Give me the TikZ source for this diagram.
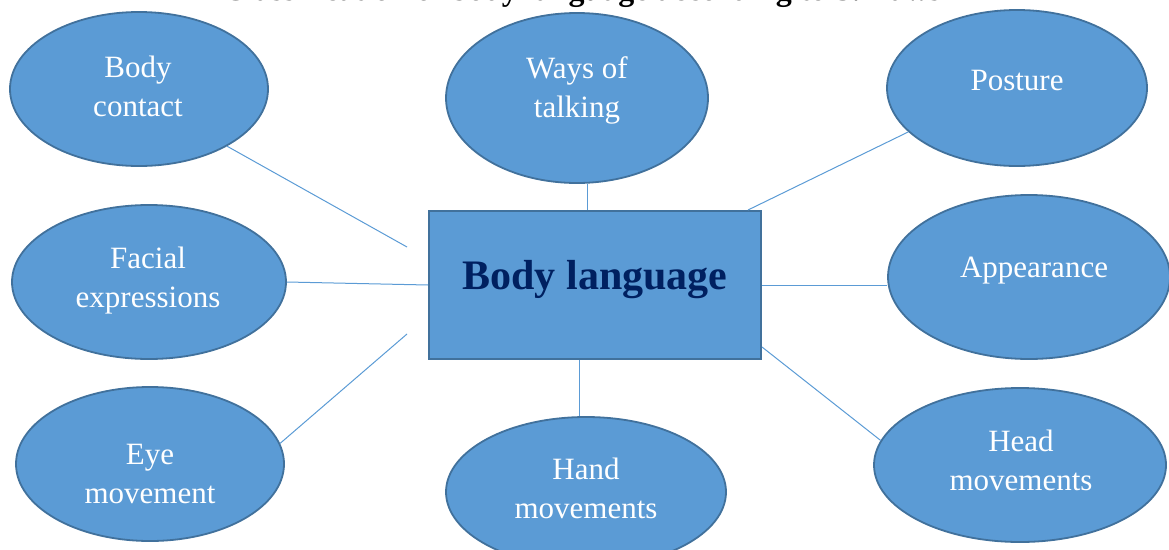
\documentclass[tikz,border=0pt]{standalone}
\usepackage{fontspec}
\setmainfont{Liberation Serif}
\usetikzlibrary{shapes.geometric,calc}
\definecolor{fillblue}{HTML}{5B9BD5}
\definecolor{edgeblue}{HTML}{41719C}
\definecolor{navy}{HTML}{002060}
\begin{document}
\begin{tikzpicture}[x=1pt,y=-1pt,
  oval/.style={ellipse, draw=edgeblue, line width=1.8pt, fill=fillblue, inner sep=0pt},
  lbl/.style={text=white, font=\fontsize{31}{39}\selectfont, align=center},
  link/.style={draw=fillblue, line width=1pt}]
\useasboundingbox (0,0) rectangle (1169,549);
\clip (0,0) rectangle (1169,549);
\node[anchor=base, font=\bfseries\fontsize{32}{40}\selectfont] (title) at (582,0.8) {Classification of body language according to S. Laws};

\coordinate (c1) at (407,247);
\coordinate (c2) at (407,334);

\node[oval, minimum width=258pt, minimum height=154pt] (bc) at (139,89) {};
\node[oval, minimum width=262pt, minimum height=170pt] (wt) at (577,98) {};
\node[oval, minimum width=260pt, minimum height=156pt] (po) at (1017,88) {};
\node[oval, minimum width=274pt, minimum height=154pt] (fe) at (149,282) {};
\node[oval, minimum width=282pt, minimum height=164pt] (ap) at (1029,277) {};
\node[oval, minimum width=268pt, minimum height=154pt] (em) at (150,464) {};
\node[oval, minimum width=280pt, minimum height=150pt] (hm) at (586,492) {};
\node[oval, minimum width=292pt, minimum height=154pt] (hd) at (1020,465) {};

\node[draw=edgeblue, line width=2pt, fill=fillblue, minimum width=332pt, minimum height=148pt, inner sep=0pt] (box) at (595,285) {};
\node[text=navy, font=\bfseries\fontsize{42}{50}\selectfont] (boxtxt) at (595,280) {Body language};

\node[lbl] (bct) at (138,86) {Body\\contact};
\node[lbl] (wtt) at (577,90) {Ways of\\talking};
\node[lbl] (pot) at (1017,80) {Posture};
\node[lbl] (fet) at (148,281) {Facial\\expressions};
\node[lbl] (apt) at (1034,271) {Appearance};
\node[lbl] (emt) at (150,474) {Eye\\movement};
\node[lbl] (hmt) at (586,488) {Hand\\movements};
\node[lbl] (hdt) at (1021,460) {Head\\movements};

\draw[link] (bc.-33) -- (c1);
\draw[link] (wt.-83) -- (wt.-83 |- box.north);
\draw[link] (po.202) -- ($(box.north east)+(-14,0)$);
\draw[link] (fe.east) -- (box.west);
\draw[link] (box.east) -- (ap.west |- box.east);
\draw[link] (em.9) -- (c2);
\draw[link] (hm.95) -- (hm.95 |- box.south);
\draw[link] ($(box.south east)+(0,-13)$) -- (hd.170);
\end{tikzpicture}
\end{document}
